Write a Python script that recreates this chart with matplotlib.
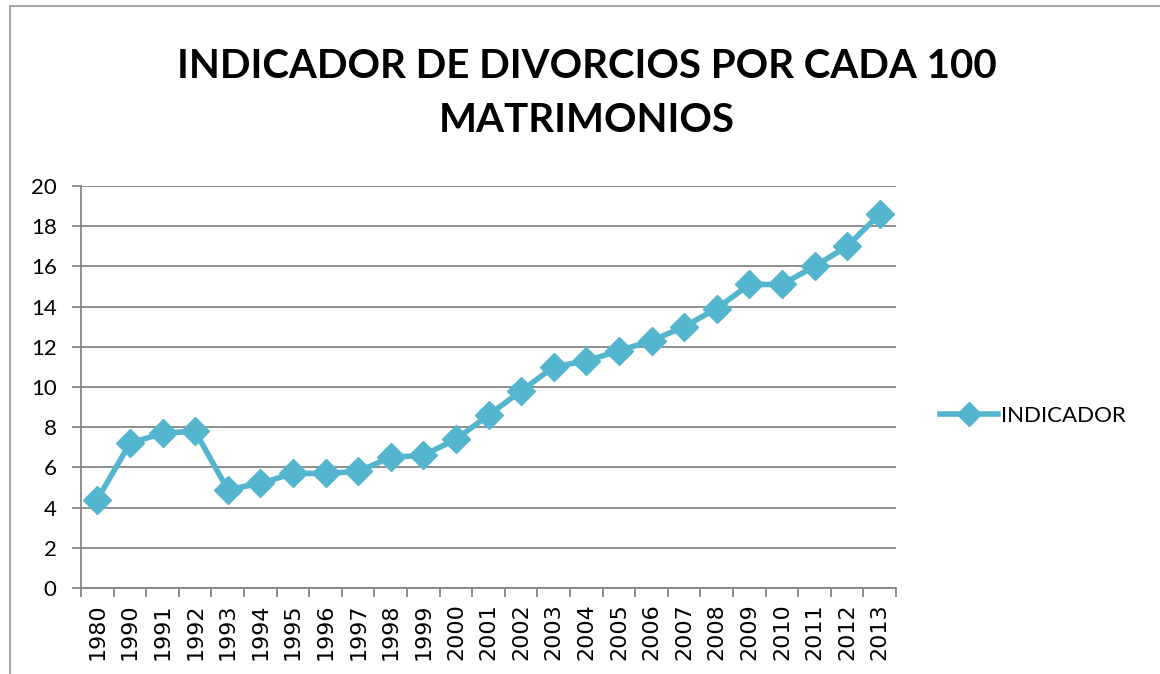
import matplotlib.pyplot as plt
from matplotlib.patches import Rectangle
from matplotlib.ticker import MultipleLocator, FixedLocator

years = ["1980", "1990", "1991", "1992", "1993", "1994", "1995", "1996", "1997",
         "1998", "1999", "2000", "2001", "2002", "2003", "2004", "2005", "2006",
         "2007", "2008", "2009", "2010", "2011", "2012", "2013"]
indicador = [4.4, 7.2, 7.7, 7.8, 4.9, 5.2, 5.7, 5.7, 5.8,
             6.5, 6.6, 7.4, 8.6, 9.8, 11.0, 11.3, 11.8, 12.3,
             13.0, 13.9, 15.1, 15.1, 16.0, 17.0, 18.6]

title_lines = ["INDICADOR DE DIVORCIOS POR CADA 100", "MATRIMONIOS"]
line_color = "#54B6CE"
axis_gray = "#868686"

plt.rcParams["font.family"] = ["Lato", "DejaVu Sans"]

W, H = 1160, 674
fig = plt.figure(figsize=(W / 100, H / 100), dpi=100)
ax = fig.add_axes([81 / W, 1 - 588 / H, (896 - 81) / W, (588 - 186) / H])

x = list(range(len(years)))
ax.plot(x, indicador, color=line_color, lw=4, marker="D", markersize=14,
        markeredgecolor=line_color, label="INDICADOR", solid_joinstyle="round")

ax.set_xlim(-0.5, len(years) - 0.5)
ax.set_ylim(0, 20)
ax.yaxis.set_major_locator(MultipleLocator(2))
ax.grid(axis="y", color=axis_gray, lw=1.3)
ax.set_axisbelow(True)

ax.set_xticks(x)
ax.set_xticklabels(years, rotation=90, fontsize=16, family="DejaVu Sans")
ax.xaxis.set_minor_locator(FixedLocator([i - 0.5 for i in range(len(years) + 1)]))
ax.tick_params(axis="x", which="major", length=0, pad=11)
ax.tick_params(axis="x", which="minor", length=6.5, color=axis_gray, width=1.3)
ax.tick_params(axis="y", length=6.5, color=axis_gray, width=1.3, labelsize=16, pad=11)

for side in ["top", "right"]:
    ax.spines[side].set_visible(False)
for side in ["left", "bottom"]:
    ax.spines[side].set_color(axis_gray)
    ax.spines[side].set_linewidth(1.3)

# title, two centred lines
fig.text(587 / W, 1 - 66 / H, title_lines[0], ha="center", va="center",
         fontsize=29, fontweight="bold")
fig.text(587 / W, 1 - 121 / H, title_lines[1], ha="center", va="center",
         fontsize=29, fontweight="bold")

fig.legend(loc="center left", bbox_to_anchor=(940 / W, 1 - 416 / H), frameon=False,
           fontsize=16, handlelength=2.6, handletextpad=0.15, borderpad=0,
           borderaxespad=0, markerscale=0.85)

# outer chart frame
fig.add_artist(Rectangle((10 / W, -0.05), 1.2, 1 - 6 / H + 0.05,
                         transform=fig.transFigure, fill=False,
                         edgecolor="#A6A6A6", lw=1.5, clip_on=False))

fig.savefig("out.png", dpi=100)
